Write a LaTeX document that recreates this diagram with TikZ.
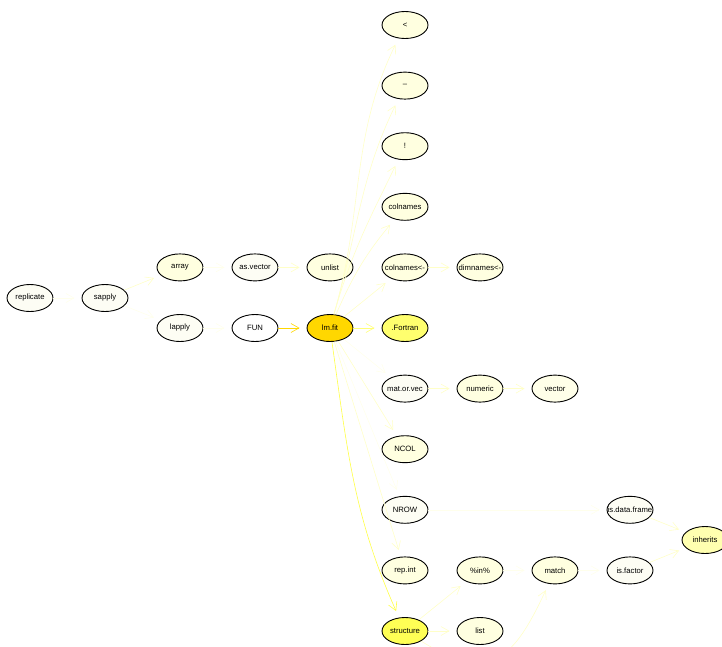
\documentclass[tikz,border=0pt]{standalone}
\usepackage{fontspec}
\setmainfont{Liberation Sans}
\usetikzlibrary{shapes.geometric,arrows.meta}
\definecolor{fnwhite}{RGB}{253,253,244}
\definecolor{fnpale}{RGB}{255,255,224}
\definecolor{fnlight}{RGB}{255,255,176}
\definecolor{fnyellow}{RGB}{255,255,110}
\definecolor{fnstruct}{RGB}{255,255,85}
\definecolor{fngold}{RGB}{255,215,0}
\definecolor{edfaint}{RGB}{255,255,236}
\definecolor{edpale}{RGB}{255,255,200}
\definecolor{edyellow}{RGB}{255,255,120}
\definecolor{edstrong}{RGB}{255,255,70}
\begin{document}
\begin{tikzpicture}[x=1pt, y=1pt, font=\fontsize{7.7}{9}\selectfont,
    fn/.style={draw, ellipse, line width=0.9pt, minimum width=46pt, minimum height=27pt,
      inner sep=0pt, fill=fnpale,
      execute at begin node={\hbox to 0pt\bgroup\hss}, execute at end node={\hss\egroup}},
    call/.style={draw=edpale, line width=0.6pt, shorten >=7pt,
      -{Straight Barb[length=8pt,width=9pt]}},
    faint/.style={call, draw=edfaint}]
  \useasboundingbox (0,0) rectangle (722,-646);
  % Callers on the left
  \node[fn, fill=fnwhite] (replicate) at (30,-298) {replicate};
  \node[fn, fill=fnwhite] (sapply) at (105,-298) {sapply};
  \node[fn] (array) at (180,-267.4) {array};
  \node[fn, fill=fnwhite] (lapply) at (180,-328) {lapply};
  \node[fn, fill=fnwhite] (asvector) at (255,-267.4) {as.vector};
  \node[fn, fill=white] (FUN) at (255,-328) {FUN};
  \node[fn] (unlist) at (330,-267.4) {unlist};
  \node[fn, fill=fngold] (lmfit) at (330,-328) {lm.fit};
  \draw[faint] (replicate) -- (sapply);
  \draw[call] (sapply) -- (array);
  \draw[faint] (sapply) -- (lapply);
  \draw[faint] (array) -- (asvector);
  \draw[call] (asvector) -- (unlist);
  \draw[faint] (lapply) -- (FUN);
  \draw[call, draw=fngold] (FUN) -- (lmfit);
  % Callees of lm.fit
  \foreach \name/\lbl/\fcol/\row in {lt/{<}/fnpale/25, minus/{–}/fnpale/85.6,
      not/{!}/fnpale/146.2, colnames/colnames/fnpale/206.8,
      colnamesset/{colnames<-}/fnpale/267.4, fortran/.Fortran/fnyellow/328,
      matorvec/mat.or.vec/fnwhite/388.6, ncol/NCOL/fnpale/449.2,
      nrow/NROW/fnwhite/509.8, repint/rep.int/fnpale/570.4,
      structure/structure/fnstruct/631} {
    \node[fn, fill=\fcol] (\name) at (405,-\row) {\lbl};
  }
  \foreach \name in {lt,minus,not} {
    \draw[call] (lmfit) to[out=74, in=244] (\name);
  }
  \draw[call] (lmfit) to[bend left=8] (colnames);
  \draw[call] (lmfit) -- (colnamesset);
  \draw[call, draw=edyellow] (lmfit) -- (fortran);
  \draw[faint] (lmfit) -- (matorvec);
  \draw[call] (lmfit) -- (ncol);
  \draw[faint] (lmfit) -- (nrow);
  \draw[call] (lmfit) -- (repint);
  \draw[call, draw=edstrong] (lmfit) to[out=-82, in=114] (structure);
  % Further down the tree
  \node[fn] (dimnamesset) at (480,-267.4) {dimnames<-};
  \node[fn] (numeric) at (480,-388.6) {numeric};
  \node[fn, fill=fnpale!70!white] (vector) at (555,-388.6) {vector};
  \node[fn] (inop) at (480,-570.4) {\%in\%};
  \node[fn] (list) at (480,-631) {list};
  \node[fn] (match) at (555,-570.4) {match};
  \node[fn, fill=fnwhite] (isdataframe) at (630,-509.8) {is.data.frame};
  \node[fn, fill=fnwhite] (isfactor) at (630,-570.4) {is.factor};
  \node[fn, fill=fnlight] (inherits) at (705,-540) {inherits};
  \draw[call] (colnamesset) -- (dimnamesset);
  \draw[call] (matorvec) -- (numeric);
  \draw[call] (numeric) -- (vector);
  \draw[faint] (nrow) -- (isdataframe);
  \draw[call] (structure) -- (inop);
  \draw[call] (structure) -- (list);
  \draw[call] (structure) to[out=-32, in=245, looseness=1.5] (match);
  \draw[faint] (inop) -- (match);
  \draw[faint] (match) -- (isfactor);
  \draw[call] (isdataframe) -- (inherits);
  \draw[call] (isfactor) -- (inherits);
\end{tikzpicture}
\end{document}
